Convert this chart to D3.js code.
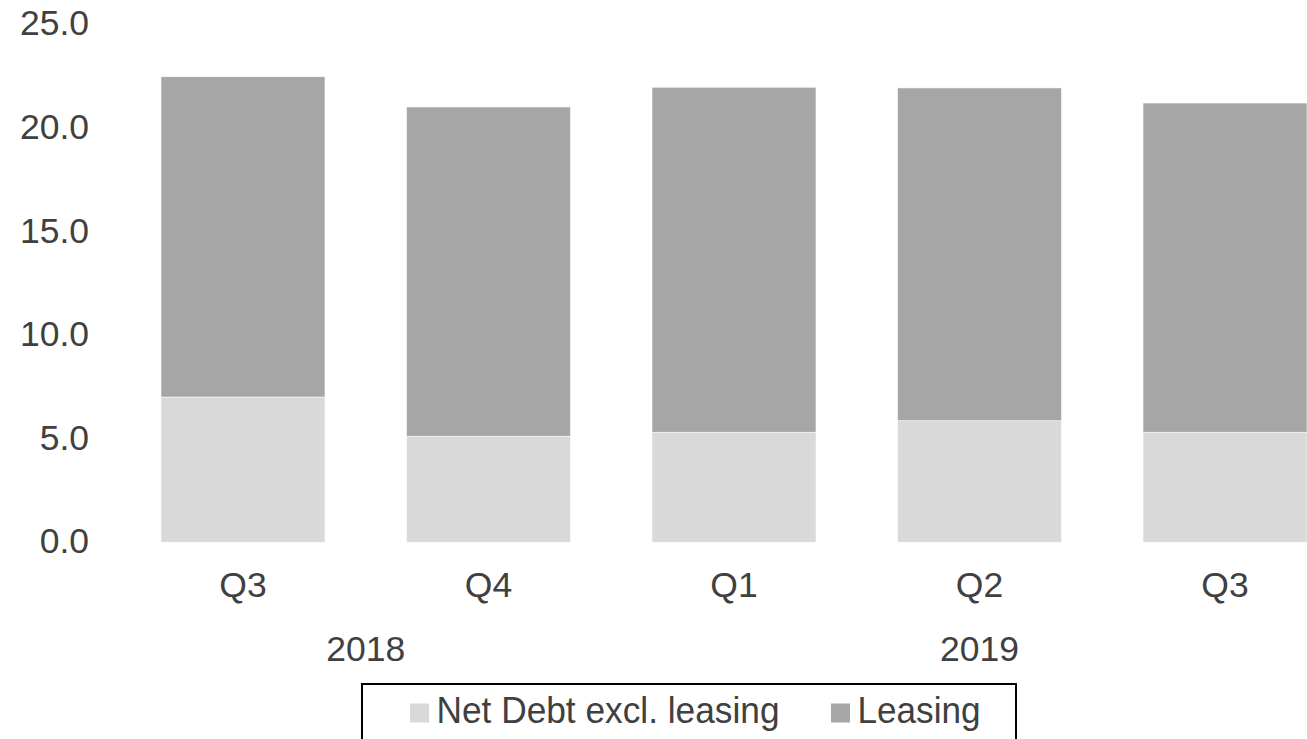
<!DOCTYPE html>
<html>
<head>
<meta charset="utf-8">
<script src="https://cdn.jsdelivr.net/npm/d3@7"></script>
<style>
 body { margin: 0; background: #fff; overflow: hidden; }
 text { font-family: "Liberation Sans", Arial, sans-serif; fill: #404040; }
</style>
</head>
<body>
<div id="chart"></div>
<script>
 //Categories and values.
 var quarters = ["Q3", "Q4", "Q1", "Q2", "Q3"];
 var years = ["2018", "2018", "2019", "2019", "2019"];
 var netDebt = [7.01, 5.12, 5.31, 5.87, 5.31];
 var leasing = [15.46, 15.89, 16.65, 16.06, 15.89];
 var yTicks = [0, 5, 10, 15, 20, 25];
 var seriesNames = ["Net Debt excl. leasing", "Leasing"];
 var seriesColors = ["#d9d9d9", "#a6a6a6"];

 var width = 1307, height = 739;
 var fontSize = 35.5;

 var svg = d3.select("#chart").append("svg").attr("width", width).attr("height", height);

 //Scales.
 var x = d3.scaleBand().domain(d3.range(quarters.length)).range([120.25, 1347.75])
  .paddingInner(0.332).paddingOuter(0.166);
 var y = d3.scaleLinear().domain([0, 25]).range([542.3, 24.3]);

 //Stack the two series.
 var rows = quarters.map(function(q, i) { return {i: i, net: netDebt[i], lease: leasing[i]}; });
 var stack = d3.stack().keys(["net", "lease"])(rows);

 svg.selectAll("g.series").data(stack).enter().append("g").attr("class", "series")
  .attr("fill", function(d, k) { return seriesColors[k]; })
  .selectAll("rect").data(function(d) { return d; }).enter().append("rect")
  .attr("x", function(d) { return x(d.data.i); })
  .attr("width", x.bandwidth())
  .attr("y", function(d) { return y(d[1]); })
  .attr("height", function(d) { return y(d[0]) - y(d[1]); })
  .attr("stroke", "#ffffff").attr("stroke-width", 0.8).attr("stroke-opacity", 0.7);

 //Y axis, labels only.
 var yAxis = svg.append("g").attr("transform", "translate(95,0)")
  .call(d3.axisLeft(y).tickValues(yTicks).tickSize(0).tickPadding(6).tickFormat(d3.format(".1f")));
 yAxis.select(".domain").remove();
 yAxis.selectAll("text").attr("font-size", fontSize).attr("dy", "0.3em")
  .style("font-family", "Liberation Sans, Arial, sans-serif").attr("fill", "#404040");

 //Quarter labels.
 var xAxis = svg.append("g").attr("transform", "translate(0,542.3)")
  .call(d3.axisBottom(x).tickSize(0).tickPadding(0).tickFormat(function(i) { return quarters[i]; }));
 xAxis.select(".domain").remove();
 xAxis.selectAll("text").attr("font-size", fontSize).attr("dy", null).attr("y", 54.4)
  .style("font-family", "Liberation Sans, Arial, sans-serif").attr("fill", "#404040");

 //Year labels, centered under their quarters.
 var yearGroups = d3.groups(d3.range(years.length), function(i) { return years[i]; });
 svg.selectAll("text.year").data(yearGroups).enter().append("text").attr("class", "year")
  .attr("x", function(g) { return (x(g[1][0]) + x(g[1][g[1].length - 1]) + x.bandwidth()) / 2; })
  .attr("y", 660.7).attr("text-anchor", "middle").attr("font-size", fontSize)
  .text(function(g) { return g[0]; });

 //Legend.
 var legend = svg.append("g");
 legend.append("rect").attr("x", 362).attr("y", 684).attr("width", 654).attr("height", 80)
  .attr("fill", "none").attr("stroke", "#000").attr("stroke-width", 2);
 var legendX = [410, 831];
 var legendLen = [343, 123];
 seriesNames.forEach(function(name, k) {
  legend.append("rect").attr("x", legendX[k]).attr("y", 703.5).attr("width", 19).attr("height", 19)
   .attr("fill", seriesColors[k]);
  legend.append("text").attr("x", legendX[k] + 26.5).attr("y", 723.3).attr("font-size", 36)
   .attr("textLength", legendLen[k]).attr("lengthAdjust", "spacingAndGlyphs").text(name);
 });
</script>
</body>
</html>
